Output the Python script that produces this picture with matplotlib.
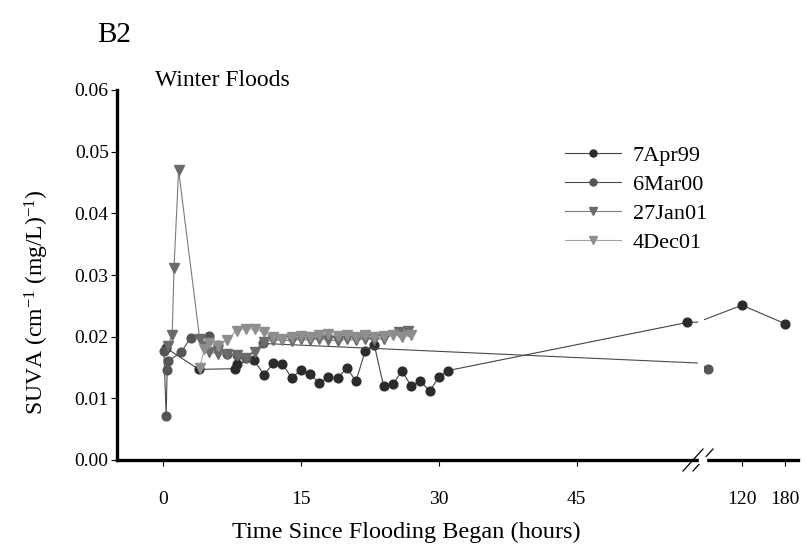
import numpy as np
import matplotlib
matplotlib.use('Agg')
import matplotlib.pyplot as plt
from matplotlib.lines import Line2D

plt.rcParams['font.family'] = 'Liberation Serif'
plt.rcParams['mathtext.default'] = 'regular'

# SUVA time series for the four winter floods (hours since flooding began)
apr99_t = [0.3, 3.9, 7.8, 8.1, 9.9, 11, 12, 13, 14, 15, 16, 17, 18, 19, 20, 21,
           22, 23, 24, 25, 26, 27, 28, 29, 30, 31, 57, 120, 180]
apr99_v = [0.0182, 0.0147, 0.0148, 0.0156, 0.0162, 0.0138, 0.0157, 0.0156, 0.0133,
           0.0146, 0.0139, 0.0125, 0.0134, 0.0133, 0.0149, 0.0128, 0.0177, 0.0186,
           0.0120, 0.0123, 0.0144, 0.0120, 0.0128, 0.0112, 0.0134, 0.0145, 0.0223,
           0.0251, 0.0221]

mar00_t = [0.1, 0.35, 0.45, 0.55, 2.0, 3.0, 5.0, 6.0, 7.0, 8.0, 9.0, 10.9, 72]
mar00_v = [0.0176, 0.0071, 0.0146, 0.0160, 0.0175, 0.0198, 0.0201, 0.0186, 0.0172,
           0.0171, 0.0166, 0.0189, 0.0148]

jan01_t = [0.5, 1.0, 1.2, 1.7, 4.0, 4.5, 5.0, 6.0, 7.0, 8.0, 9.0, 10.0, 11, 12, 13,
           14, 15, 16, 17, 18, 19, 20, 21, 22, 23, 24, 25.7, 26.7]
jan01_v = [0.0185, 0.0203, 0.0311, 0.0470, 0.0196, 0.0185, 0.0175, 0.0172, 0.0172,
           0.0171, 0.0166, 0.0175, 0.0192, 0.0194, 0.0195, 0.0193, 0.0196, 0.0194,
           0.0197, 0.0195, 0.0193, 0.0196, 0.0194, 0.0197, 0.0195, 0.0197, 0.0207,
           0.0210]

dec01_t = [4.0, 4.5, 5.0, 6.0, 7.0, 8.0, 9.0, 10.0, 11, 12, 13, 14, 15, 16, 17, 18,
           19, 20, 21, 22, 23, 24, 25, 26, 27]
dec01_v = [0.0150, 0.0180, 0.0190, 0.0185, 0.0195, 0.0210, 0.0213, 0.0212, 0.0207,
           0.0200, 0.0197, 0.0199, 0.0201, 0.0199, 0.0202, 0.0204, 0.0201, 0.0203,
           0.0200, 0.0202, 0.0199, 0.0201, 0.0203, 0.0200, 0.0202]

series = [
    ('7Apr99', apr99_t, apr99_v, 'o', '#444444', '#2b2b2b', 6.3),
    ('6Mar00', mar00_t, mar00_v, 'o', '#4a4a4a', '#555555', 6.3),
    ('27Jan01', jan01_t, jan01_v, 'v', '#7c7c7c', '#6a6a6a', 7),
    ('4Dec01', dec01_t, dec01_v, 'v', '#a4a4a4', '#8e8e8e', 7),
]

W, H = 805, 546
fig = plt.figure(figsize=(W / 100, H / 100), dpi=100)

# broken x axis: linear -5..58 h on the left, compressed 67..198 h on the right
ax = fig.add_axes([117 / W, 1 - 460 / H, (698 - 117) / W, 370 / H])
ax2 = fig.add_axes([704 / W, 1 - 460 / H, (798 - 704) / W, 370 / H], sharey=ax)
ax2.patch.set_visible(False)

for a in (ax, ax2):
    for name, t, v, m, lc, mc, ms in series:
        a.plot(t, v, marker=m, color=lc, markerfacecolor=mc, markeredgecolor=mc,
               markersize=ms, linewidth=0.8, label=name)
    a.spines['top'].set_visible(False)
    a.spines['right'].set_visible(False)
    a.spines['bottom'].set_linewidth(2.4)
    a.tick_params(axis='both', labelsize=14, length=4, width=0.8, direction='out')
    a.tick_params(axis='x', pad=18)

ax.spines['left'].set_linewidth(2.4)
ax.set_xlim(-5, 58.2)
ax.set_xticks([0, 15, 30, 45])
ax.set_ylim(0, 0.06)
ax.set_yticks(np.arange(0, 0.061, 0.01))
ax.set_yticklabels([f'{y:.2f}' for y in np.arange(0, 0.061, 0.01)])
ax.tick_params(axis='y', pad=2)

ax2.set_xlim(67, 198)
ax2.set_xticks([120, 180])
ax2.spines['left'].set_visible(False)
ax2.tick_params(axis='y', left=False, labelleft=False)

# break marks on the x axis
for cx in (693, 703):
    fig.add_artist(Line2D([(cx - 10) / W, (cx + 10) / W],
                          [1 - 471 / H, 1 - 449 / H], color='black', linewidth=0.9))
fig.add_artist(plt.Rectangle((698.5 / W, 1 - 463 / H), 7 / W, 6 / H,
                             color='white', zorder=5))

fig.text(37 / W, 1 - 302 / H, 'SUVA (cm$^{-1}$ (mg/L)$^{-1}$)', fontsize=17,
         rotation=90, ha='center', va='center')
fig.text(406 / W, 1 - 532 / H, 'Time Since Flooding Began (hours)',
         fontsize=17.5, ha='center', va='center')
fig.text(155 / W, 1 - 80 / H, 'Winter Floods', fontsize=17, va='center')
fig.text(97 / W, 1 - 35 / H, 'B2', fontsize=21, va='center')

fig.legend(handles=ax.get_lines(), loc='upper left',
           bbox_to_anchor=(554 / W, 1 - 134 / H), frameon=False, fontsize=16,
           handlelength=2.5, handletextpad=0.55, labelspacing=0.38,
           borderpad=0, markerscale=0.8)

fig.savefig('out.png', dpi=100)
